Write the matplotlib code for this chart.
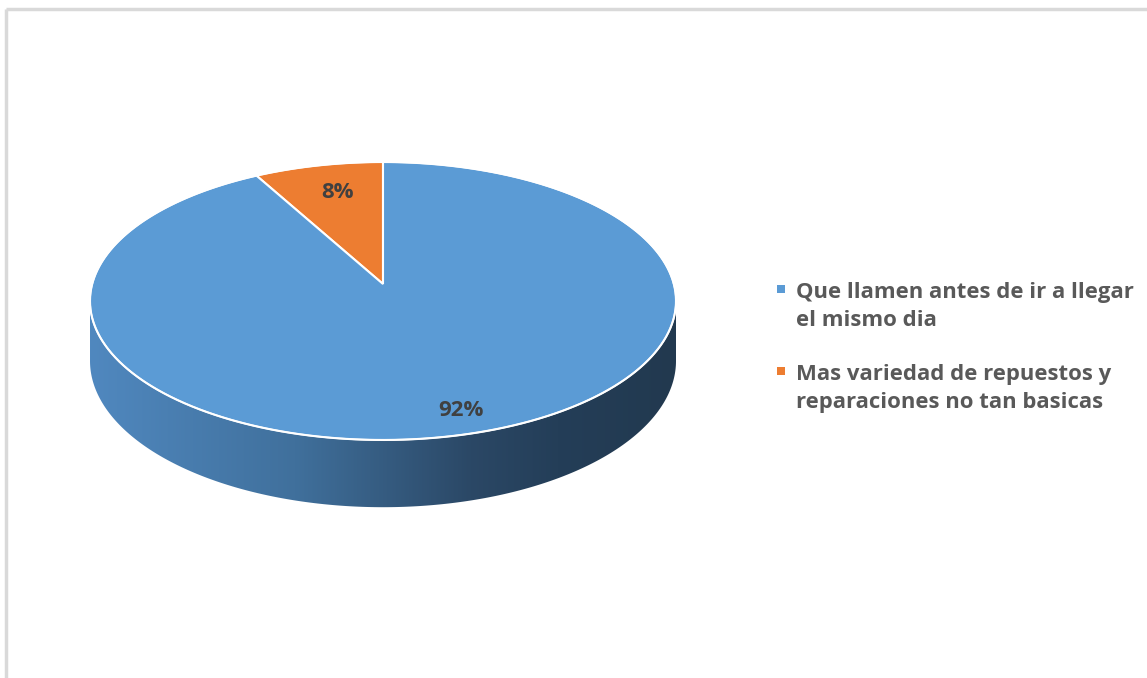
import matplotlib.pyplot as plt
import numpy as np
from matplotlib.patches import Polygon, Rectangle
from matplotlib.colors import LinearSegmentedColormap

labels = ['Que llamen antes de ir a llegar\nel mismo dia',
          'Mas variedad de repuestos y\nreparaciones no tan basicas']
values = [92, 8]
colors = ['#5B9BD5', '#ED7D31']

W, H = 1147, 678
fig = plt.figure(figsize=(W / 100, H / 100), dpi=100)
ax = fig.add_axes([0, 0, 1, 1])
ax.set_xlim(0, W)
ax.set_ylim(H, 0)
ax.axis('off')

# pie geometry in pixels, simple perspective on the disk
cx, cy = 383, 284
A, B = 290.8, 136.9
k = 0.1223
depth = 59


def project(phi, r=1.0, drop=0.0):
    u = r * np.cos(phi)
    v = r * np.sin(phi)
    w = 1 + k * v
    return cx + A * u / w, cy - B * v / w + drop / w


# side wall (only the front part shows)
pa = np.pi + np.arcsin(k)
pb = 2 * np.pi - np.arcsin(k)
t = np.linspace(pa, pb, 300)
tx, ty = project(t)
bx, by = project(t[::-1], drop=depth)
side = Polygon(np.column_stack([np.r_[tx, bx], np.r_[ty, by]]),
               closed=True, facecolor='none', edgecolor='none')
ax.add_patch(side)
side_cmap = LinearSegmentedColormap.from_list(
    'side', [(0, '#5088bf'), (0.35, '#40709c'), (0.65, '#2b4866'),
             (0.8, '#243e58'), (1, '#22394f')])
grad = np.linspace(0, 1, 256).reshape(1, -1)
im = ax.imshow(grad, cmap=side_cmap, aspect='auto',
               extent=[tx.min(), tx.max(), by.max() + 2, ty.min()], zorder=1)
im.set_clip_path(side)

# top face, slices start at 12 o'clock and go counterclockwise
total = sum(values)
fracs = [v / total for v in values]
start = np.pi / 2
order = [1, 0]  # orange slice sits just left of 12 o'clock
label_r = {0: 0.86, 1: 0.75}
label_dx = {0: 9, 1: 4}
for i in order:
    span = 2 * np.pi * fracs[i]
    ang = np.linspace(start, start + span, 200)
    px, py = project(ang)
    poly = Polygon(np.column_stack([np.r_[cx, px], np.r_[cy, py]]),
                   closed=True, facecolor=colors[i], edgecolor='white',
                   linewidth=1.5, joinstyle='miter', zorder=3)
    ax.add_patch(poly)
    mx, my = project(start + span / 2, r=label_r[i])
    ax.text(mx + label_dx[i], my, '%d%%' % round(fracs[i] * 100),
            ha='center', va='center', fontsize=16, fontweight='bold',
            family='Open Sans', color='#404040', zorder=5)
    start += span

# outer rim highlight
rim = np.linspace(0, 2 * np.pi, 400)
rx, ry = project(rim)
ax.plot(rx, ry, color='white', lw=1.2, zorder=4)

# legend
ly = [289, 371]
for i, lab in enumerate(labels):
    ax.add_patch(Rectangle((777, ly[i] - 4), 8, 8, facecolor=colors[i],
                           edgecolor='none', zorder=5))
    ax.text(796, ly[i] - 7, lab, ha='left', va='top', fontsize=15.9,
            fontweight='bold', family='Open Sans', color='#595959',
            linespacing=1.45)

# chart area border (left and top)
ax.plot([6, 6], [H, 9], color='#d9d9d9', lw=2.5, solid_capstyle='butt')
ax.plot([6, W], [9, 9], color='#d9d9d9', lw=2.5, solid_capstyle='butt')

fig.savefig('out.png', dpi=100)
